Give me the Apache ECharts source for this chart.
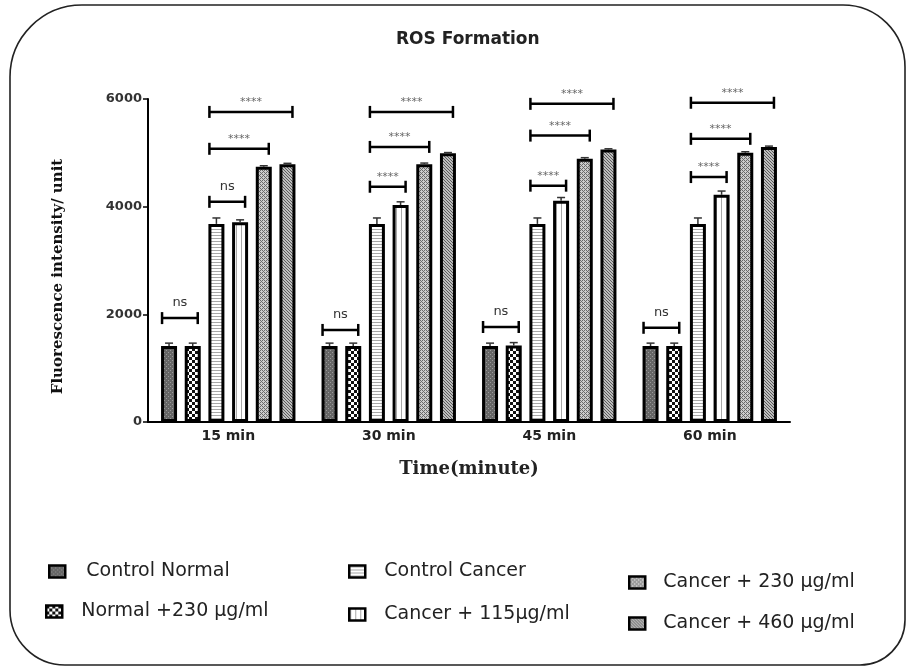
<!DOCTYPE html>
<html>
<head>
<meta charset="utf-8">
<script src="https://cdn.jsdelivr.net/npm/echarts@6/dist/echarts.min.js"></script>
<style>
  html, body { margin: 0; padding: 0; background: #fff; }
  #main { width: 910px; height: 672px; }
</style>
</head>
<body>
<div id="main"></div>
<script>
// data
var categories = ['15 min', '30 min', '45 min', '60 min']
var seriesNames = ['Control Normal', 'Normal +230 μg/ml', 'Control Cancer',
  'Cancer + 115μg/ml', 'Cancer + 230 μg/ml', 'Cancer + 460 μg/ml']
var controlNormal = [1410, 1410, 1410, 1410]
var normal230 = [1410, 1410, 1420, 1410]
var controlCancer = [3680, 3680, 3680, 3680]
var cancer115 = [3710, 4030, 4110, 4220]
var cancer230 = [4740, 4790, 4890, 5000]
var cancer460 = [4790, 4990, 5060, 5110]
var errControlNormal = [55, 55, 55, 55]
var errNormal230 = [55, 55, 55, 55]
var errControlCancer = [110, 110, 110, 110]
var errCancer115 = [45, 60, 60, 70]
var errCancer230 = [20, 20, 20, 20]
var errCancer460 = [15, 15, 15, 15]
var yTicks = [0, 2000, 4000, 6000]
// [category, from bar, to bar, height, label]
var brackets = [
  [0, 0, 1, 1930, 'ns'], [0, 2, 3, 4090, 'ns'], [0, 2, 4, 5075, '****'], [0, 2, 5, 5760, '****'],
  [1, 0, 1, 1710, 'ns'], [1, 2, 3, 4370, '****'], [1, 2, 4, 5110, '****'], [1, 2, 5, 5760, '****'],
  [2, 0, 1, 1765, 'ns'], [2, 2, 3, 4390, '****'], [2, 2, 4, 5320, '****'], [2, 2, 5, 5910, '****'],
  [3, 0, 1, 1750, 'ns'], [3, 2, 3, 4550, '****'], [3, 2, 4, 5260, '****'], [3, 2, 5, 5930, '****']
]

var values = [controlNormal, normal230, controlCancer, cancer115, cancer230, cancer460]
var errors = [errControlNormal, errNormal230, errControlCancer, errCancer115, errCancer230, errCancer460]

// fill patterns
function pattern(w, h, bg, fg, dots) {
  var c = document.createElement('canvas')
  c.width = w
  c.height = h
  var ctx = c.getContext('2d')
  ctx.fillStyle = bg
  ctx.fillRect(0, 0, w, h)
  ctx.fillStyle = fg
  dots.forEach(function(d) {
    ctx.fillRect(d[0], d[1], d[2] || 1, d[3] || 1)
  })
  return { image: c, repeat: 'repeat' }
}
var fills = [
  pattern(4, 4, '#666666', '#999999', [[0, 0], [2, 2]]),
  pattern(6, 6, '#ffffff', '#111111', [[0, 0, 3, 3], [3, 3, 3, 3]]),
  pattern(4, 3, '#ffffff', '#a8a8a8', [[0, 1, 4, 1]]),
  pattern(5, 4, '#ffffff', '#a8a8a8', [[1, 0, 1, 4]]),
  pattern(4, 4, '#cccccc', '#6a6a6a', [[0, 0], [1, 1], [2, 2], [3, 3], [2, 0], [0, 2]]),
  pattern(3, 3, '#bdbdbd', '#5a5a5a', [[0, 0], [1, 1], [2, 2]])
]

var BAR_W = 16
var BAR_GAP = 0.48
var PITCH = BAR_W * (1 + BAR_GAP)

function barCenter(api, cat, s) {
  return api.coord([cat, 0])[0] + (s - 2.5) * PITCH
}

var errData = []
values.forEach(function(arr, s) {
  arr.forEach(function(v, c) {
    errData.push([c, s, v, errors[s][c]])
  })
})

var chart = echarts.init(document.getElementById('main'))

var barSeries = seriesNames.map(function(name, i) {
  return {
    name: name,
    type: 'bar',
    data: values[i],
    barWidth: BAR_W,
    barGap: (BAR_GAP * 100) + '%',
    itemStyle: { color: fills[i], borderColor: '#000', borderWidth: 3 },
    emphasis: { disabled: true },
    z: 2
  }
})

var legendPos = [
  { left: 43, top: 557, pad: 16 },
  { left: 40, top: 597, pad: 14 },
  { left: 343, top: 557, pad: 14 },
  { left: 343, top: 600, pad: 14 },
  { left: 623, top: 568, pad: 13 },
  { left: 623, top: 609, pad: 13 }
]

var option = {
  backgroundColor: '#fff',
  animation: false,
  title: {
    text: 'ROS Formation',
    left: 391,
    top: 26,
    textStyle: { fontFamily: 'DejaVu Sans', fontWeight: 'bold', fontSize: 17, color: '#222' }
  },
  legend: seriesNames.map(function(name, i) {
    return {
      data: [name],
      left: legendPos[i].left,
      top: legendPos[i].top,
      icon: 'rect',
      itemWidth: 16,
      itemHeight: 12,
      selectedMode: false,
      itemStyle: { borderColor: '#000', borderWidth: 2.5 },
      textStyle: {
        fontFamily: 'DejaVu Sans', fontSize: 19, color: '#222',
        padding: [0, 0, 0, legendPos[i].pad]
      }
    }
  }),
  grid: { left: 148, right: 120, top: 99, bottom: 250 },
  xAxis: {
    type: 'category',
    data: categories,
    name: 'Time(minute)',
    nameLocation: 'middle',
    nameGap: 38,
    nameTextStyle: { fontFamily: 'DejaVu Serif', fontWeight: 'bold', fontSize: 18, color: '#222' },
    axisLine: { lineStyle: { color: '#000', width: 2 } },
    axisTick: { alignWithLabel: true, length: 5, lineStyle: { color: '#000', width: 1.5 } },
    axisLabel: { margin: 7, fontFamily: 'DejaVu Sans', fontWeight: 'bold', fontSize: 14, color: '#222' }
  },
  yAxis: {
    type: 'value',
    min: yTicks[0],
    max: yTicks[yTicks.length - 1],
    interval: yTicks[1] - yTicks[0],
    name: 'Fluorescence intensity/ unit',
    nameLocation: 'middle',
    nameRotate: 90,
    nameGap: 82,
    nameTextStyle: {
      fontFamily: 'DejaVu Serif', fontWeight: 'bold', fontSize: 15, color: '#111',
      padding: [0, 32, 0, 0]
    },
    splitLine: { show: false },
    axisLine: { show: true, lineStyle: { color: '#000', width: 2 } },
    axisTick: { show: true, length: 5, lineStyle: { color: '#000', width: 1.5 } },
    axisLabel: {
      margin: 6, fontFamily: 'DejaVu Sans', fontWeight: 'bold', fontSize: 13, color: '#333',
      formatter: function(v) { return String(v) }
    }
  },
  graphic: [{
    type: 'rect',
    shape: { x: 10, y: 5, width: 895, height: 660, r: [72, 62, 45, 55] },
    style: { fill: 'none', stroke: '#222', lineWidth: 1.6 },
    silent: true,
    z: -1
  }],
  series: barSeries.concat([
    {
      type: 'custom',
      name: 'error',
      data: errData,
      encode: { x: 0, y: 2 },
      clip: false,
      z: 3,
      renderItem: function(params, api) {
        var c = api.value(0)
        var s = api.value(1)
        var v = api.value(2)
        var e = api.value(3)
        var x = barCenter(api, c, s)
        var y0 = api.coord([c, v])[1]
        var y1 = api.coord([c, v + e])[1]
        var st = { stroke: '#333', lineWidth: 1.5 }
        return {
          type: 'group',
          children: [
            { type: 'line', shape: { x1: x, y1: y0, x2: x, y2: y1 }, style: st },
            { type: 'line', shape: { x1: x - 4, y1: y1, x2: x + 4, y2: y1 }, style: st }
          ]
        }
      }
    },
    {
      type: 'custom',
      name: 'significance',
      data: brackets,
      encode: { x: 0, y: 3 },
      clip: false,
      z: 4,
      renderItem: function(params, api) {
        var b = brackets[params.dataIndex]
        var x1 = barCenter(api, b[0], b[1]) - 7
        var x2 = barCenter(api, b[0], b[2]) + 5
        var y = api.coord([b[0], b[3]])[1]
        var st = { stroke: '#000', lineWidth: 2.5 }
        var isNs = b[4] === 'ns'
        return {
          type: 'group',
          children: [
            { type: 'line', shape: { x1: x1, y1: y, x2: x2, y2: y }, style: st },
            { type: 'line', shape: { x1: x1, y1: y - 6, x2: x1, y2: y + 6 }, style: st },
            { type: 'line', shape: { x1: x2, y1: y - 6, x2: x2, y2: y + 6 }, style: st },
            {
              type: 'text',
              style: {
                text: b[4],
                x: (x1 + x2) / 2,
                y: isNs ? y - 9 : y - 4,
                align: 'center',
                verticalAlign: 'bottom',
                textAlign: 'center',
                textVerticalAlign: 'bottom',
                fill: isNs ? '#333' : '#666',
                font: isNs ? '13px "DejaVu Sans"' : '11px "DejaVu Sans"'
              }
            }
          ]
        }
      }
    }
  ])
}

chart.setOption(option)
</script>
</body>
</html>
